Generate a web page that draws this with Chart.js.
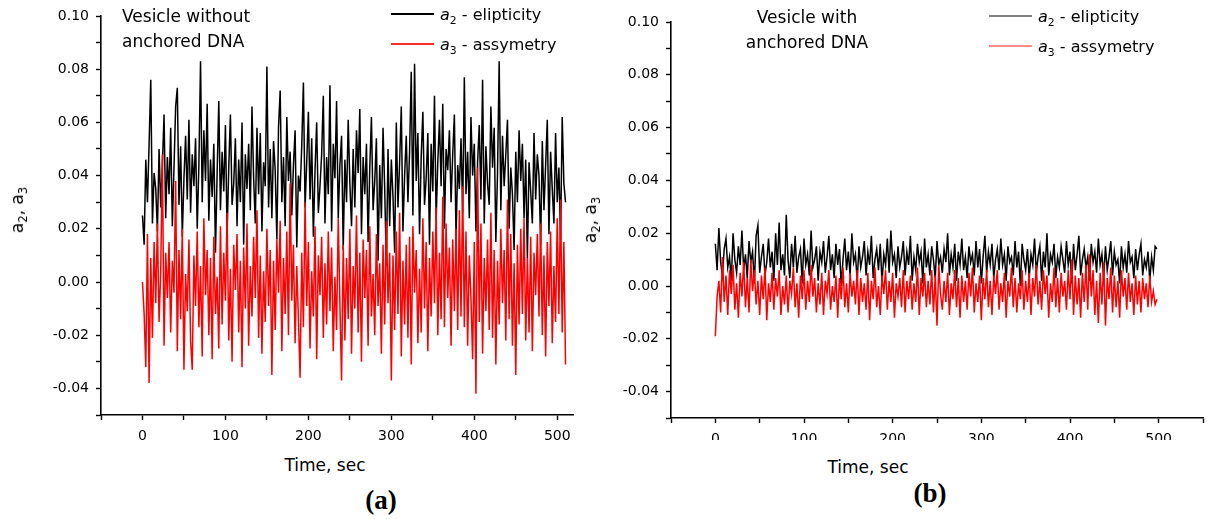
<!DOCTYPE html>
<html><head><meta charset="utf-8">
<script src="https://cdn.jsdelivr.net/npm/chart.js@4.4.1/dist/chart.umd.min.js"></script>
<style>
html,body{margin:0;padding:0;background:#fff;}
#wrap{position:relative;width:1211px;height:519px;overflow:hidden;background:#fff;font-family:"DejaVu Sans",sans-serif;color:#000;}
.abs{position:absolute;white-space:nowrap;}
canvas{position:absolute;}
sub{font-size:0.68em;vertical-align:-0.35em;line-height:0;}
.lgrow{position:absolute;height:24px;display:flex;align-items:center;font-size:16px;white-space:nowrap;}
.lgline{display:inline-block;width:43px;height:2px;margin-right:6px;}
.rot{position:absolute;width:0;height:0;}
.rot span{position:absolute;left:0;top:0;transform:translate(-50%,-50%) rotate(-90deg);white-space:nowrap;font-size:17px;}
.panel{font-family:"Liberation Serif","Times New Roman",serif;font-weight:bold;font-size:27px;}
</style></head><body>
<div id="wrap">
<canvas id="cA" width="600" height="440" style="left:0;top:0"></canvas>
<canvas id="cB" width="611" height="440" style="left:600px;top:0"></canvas>

<div class="abs" style="left:122px;top:4px;font-size:17px;line-height:25px;">Vesicle without<br>anchored DNA</div>
<div class="abs" style="left:707px;top:5px;width:200px;text-align:center;font-size:17px;line-height:25px;">Vesicle with<br>anchored DNA</div>

<div class="rot" style="left:17px;top:210px;"><span>a<sub>2</sub>, a<sub>3</sub></span></div>
<div class="rot" style="left:590px;top:220px;"><span>a<sub>2</sub>, a<sub>3</sub></span></div>

<div class="abs" style="left:325px;top:465px;transform:translate(-50%,-50%);font-size:17px;">Time, sec</div>
<div class="abs" style="left:868px;top:467px;transform:translate(-50%,-50%);font-size:17px;">Time, sec</div>

<div class="abs panel" style="left:381px;top:500px;transform:translate(-50%,-50%);">(a)</div>
<div class="abs panel" style="left:930px;top:493px;transform:translate(-50%,-50%);">(b)</div>
<div id="legends"></div>
</div>
<script>
// ---- Data ----
const timeA = [0,2,4,6,8,10,12,14,16,18,20,22,24,26,28,30,32,34,36,38,40,42,44,46,48,50,52,54,56,58,60,62,64,66,68,70,72,74,76,78,80,82,84,86,88,90,92,94,96,98,100,102,104,106,108,110,112,114,116,118,120,122,124,126,128,130,132,134,136,138,140,142,144,146,148,150,152,154,156,158,160,162,164,166,168,170,172,174,176,178,180,182,184,186,188,190,192,194,196,198,200,202,204,206,208,210,212,214,216,218,220,222,224,226,228,230,232,234,236,238,240,242,244,246,248,250,252,254,256,258,260,262,264,266,268,270,272,274,276,278,280,282,284,286,288,290,292,294,296,298,300,302,304,306,308,310,312,314,316,318,320,322,324,326,328,330,332,334,336,338,340,342,344,346,348,350,352,354,356,358,360,362,364,366,368,370,372,374,376,378,380,382,384,386,388,390,392,394,396,398,400,402,404,406,408,410,412,414,416,418,420,422,424,426,428,430,432,434,436,438,440,442,444,446,448,450,452,454,456,458,460,462,464,466,468,470,472,474,476,478,480,482,484,486,488,490,492,494,496,498,500,502,504,506,508,510];
const a2A = [
0.025,0.014,0.046,0.030,0.052,0.076,0.022,0.041,0.035,0.019,0.050,0.028,0.044,0.063,0.024,0.047,
0.033,0.058,0.021,0.043,0.066,0.073,0.029,0.051,0.017,0.039,0.055,0.031,0.061,0.026,0.048,0.036,
0.054,0.020,0.044,0.083,0.030,0.057,0.038,0.067,0.023,0.046,0.032,0.052,0.011,0.041,0.068,0.027,
0.049,0.034,0.059,0.018,0.043,0.063,0.029,0.037,0.054,0.021,0.046,0.030,0.060,0.014,0.048,0.035,
0.052,0.027,0.066,0.039,0.022,0.058,0.033,0.056,0.019,0.045,0.036,0.081,0.028,0.050,0.024,0.053,
0.042,0.016,0.058,0.072,0.030,0.047,0.021,0.062,0.038,0.049,0.025,0.044,0.057,0.013,0.040,0.034,
0.051,0.075,0.028,0.045,0.064,0.031,0.054,0.017,0.042,0.060,0.026,0.036,0.048,0.070,0.022,0.047,
0.033,0.074,0.019,0.052,0.039,0.068,0.024,0.044,0.055,0.012,0.046,0.030,0.061,0.037,0.021,0.050,
0.028,0.057,0.041,0.065,0.018,0.047,0.033,0.052,0.015,0.043,0.062,0.027,0.038,0.054,0.008,0.044,
0.024,0.058,0.035,0.006,0.050,0.021,0.046,0.032,0.011,0.060,0.028,0.045,0.066,0.019,0.040,0.055,
0.030,0.049,0.079,0.025,0.082,0.038,0.056,0.018,0.047,0.064,0.029,0.039,0.056,0.014,0.052,0.034,
0.070,0.023,0.045,0.061,0.036,0.067,0.020,0.050,0.042,0.057,0.030,0.048,0.063,0.016,0.044,0.035,
0.054,0.026,0.077,0.033,0.049,0.024,0.062,0.040,0.052,0.019,0.045,0.059,0.031,0.076,0.022,0.051,
0.037,0.029,0.066,0.043,0.058,0.015,0.041,0.083,0.027,0.055,0.036,0.048,0.061,0.020,0.043,0.033,
0.012,0.049,0.030,0.057,0.038,0.052,0.024,0.046,0.009,0.045,0.034,0.022,0.056,0.031,0.048,0.040,
0.014,0.053,0.027,0.044,0.061,0.018,0.049,0.035,0.022,0.056,0.030,0.043,0.016,0.062,0.037,0.030];
const a3A = [
0.000,-0.012,-0.032,0.018,-0.038,0.009,-0.021,0.015,-0.008,0.022,-0.015,0.004,0.048,-0.024,0.011,-0.006,
0.015,-0.019,0.008,-0.004,0.038,-0.026,0.012,-0.014,0.020,-0.033,0.003,-0.011,0.016,-0.022,-0.033,0.010,
-0.009,0.019,-0.017,0.006,-0.028,0.024,-0.005,0.012,-0.020,0.009,-0.029,0.017,-0.012,0.002,-0.025,0.021,
-0.016,0.011,-0.007,0.026,-0.022,0.005,-0.030,0.014,-0.003,0.018,-0.019,0.008,-0.032,0.013,-0.010,0.022,
-0.024,0.006,-0.013,0.017,-0.006,0.027,-0.021,0.010,-0.027,0.004,-0.015,0.020,-0.009,0.012,-0.035,0.008,
-0.018,0.016,-0.004,0.023,-0.026,0.009,-0.012,0.019,-0.020,0.037,-0.007,0.014,-0.023,0.006,-0.014,-0.036,
0.011,-0.017,0.030,-0.009,0.015,-0.025,0.004,-0.013,0.021,-0.029,0.010,-0.005,0.017,-0.021,0.007,-0.016,
0.019,-0.011,0.013,-0.026,0.002,-0.018,0.024,-0.008,-0.037,0.014,-0.022,0.009,-0.014,0.020,-0.027,0.006,
-0.010,0.025,-0.019,0.011,-0.030,0.016,-0.006,0.012,-0.024,0.021,-0.013,0.003,-0.020,0.018,-0.009,0.007,
-0.027,0.014,-0.016,0.023,-0.008,0.011,-0.037,0.010,-0.018,0.019,-0.012,0.026,-0.028,0.008,-0.016,0.014,
-0.021,0.017,-0.031,0.021,-0.004,0.012,-0.023,0.005,-0.019,0.024,-0.010,0.015,-0.026,0.009,-0.013,0.019,
-0.008,0.028,-0.020,0.011,-0.014,0.032,-0.017,0.022,-0.006,0.013,-0.024,0.016,-0.011,0.020,-0.018,0.027,
-0.013,0.036,-0.017,0.019,-0.024,0.010,-0.006,-0.029,0.015,-0.042,0.043,-0.015,0.022,-0.027,0.009,-0.011,
0.016,-0.018,0.026,-0.021,0.012,-0.031,0.008,-0.016,0.020,-0.008,0.012,-0.022,0.031,-0.014,0.018,-0.024,
0.007,-0.035,0.014,-0.016,0.020,-0.012,0.024,-0.022,0.009,-0.019,0.017,-0.026,0.011,-0.005,0.018,-0.013,
0.022,-0.020,0.010,-0.028,0.015,-0.009,0.019,-0.023,0.006,-0.015,0.024,-0.012,0.031,-0.019,0.015,-0.031];
const timeB = [0,2,4,6,8,10,12,14,16,18,20,22,24,26,28,30,32,34,36,38,40,42,44,46,48,50,52,54,56,58,60,62,64,66,68,70,72,74,76,78,80,82,84,86,88,90,92,94,96,98,100,102,104,106,108,110,112,114,116,118,120,122,124,126,128,130,132,134,136,138,140,142,144,146,148,150,152,154,156,158,160,162,164,166,168,170,172,174,176,178,180,182,184,186,188,190,192,194,196,198,200,202,204,206,208,210,212,214,216,218,220,222,224,226,228,230,232,234,236,238,240,242,244,246,248,250,252,254,256,258,260,262,264,266,268,270,272,274,276,278,280,282,284,286,288,290,292,294,296,298,300,302,304,306,308,310,312,314,316,318,320,322,324,326,328,330,332,334,336,338,340,342,344,346,348,350,352,354,356,358,360,362,364,366,368,370,372,374,376,378,380,382,384,386,388,390,392,394,396,398,400,402,404,406,408,410,412,414,416,418,420,422,424,426,428,430,432,434,436,438,440,442,444,446,448,450,452,454,456,458,460,462,464,466,468,470,472,474,476,478,480,482,484,486,488,490,492,494,496,498];
const a2B = [
0.016,0.006,0.022,0.009,0.004,0.014,0.018,0.007,0.011,0.002,0.020,0.010,0.005,0.015,0.008,0.021,
0.006,0.012,0.003,0.017,0.009,0.013,0.001,0.019,0.023,0.005,0.011,0.016,0.004,0.009,0.018,0.007,
0.013,0.002,0.020,0.008,0.024,0.006,0.012,0.004,0.027,0.010,0.003,0.016,0.007,0.019,0.005,0.011,
0.014,0.001,0.018,0.008,0.012,0.004,0.021,0.007,0.010,0.015,0.002,0.013,0.009,0.017,0.005,0.011,
0.019,0.006,0.012,0.003,0.016,0.008,0.014,0.000,0.010,0.018,0.006,0.013,0.004,0.020,0.009,0.012,
0.002,0.015,0.007,0.011,0.017,0.004,0.013,0.008,0.019,0.003,0.010,0.014,0.006,0.016,0.001,0.012,
0.008,0.018,0.005,0.021,0.009,0.012,0.003,0.015,0.007,0.011,0.017,0.004,0.013,0.008,0.019,0.002,
0.011,0.006,0.016,0.009,0.013,0.001,0.018,0.007,0.012,0.004,0.015,0.010,0.003,0.017,0.008,0.011,
0.005,0.014,0.009,0.020,0.004,0.012,0.007,0.016,0.002,0.013,0.008,0.018,0.006,0.011,0.003,0.015,
0.009,0.012,0.004,0.017,0.007,0.014,0.001,0.011,0.019,0.005,0.013,0.008,0.016,0.003,0.010,0.014,
0.006,0.018,0.008,0.012,0.002,0.015,0.009,0.011,0.004,0.017,0.007,0.013,0.000,0.016,0.010,0.006,
0.014,0.003,0.012,0.008,0.018,0.005,0.011,0.015,0.002,0.013,0.007,0.020,0.004,0.012,0.009,0.016,
0.003,0.011,0.007,0.015,0.010,0.005,0.017,0.008,0.013,0.001,0.016,0.006,0.012,0.019,0.004,0.010,
0.014,0.007,0.011,0.002,0.016,0.009,0.013,0.005,0.018,0.008,0.012,0.003,0.015,0.006,0.011,0.017,
0.004,0.013,0.008,0.010,0.001,0.015,0.007,0.012,0.005,0.017,0.009,0.011,0.003,0.014,0.006,0.012,
0.016,0.004,0.010,0.007,0.013,0.002,0.011,0.006,0.015,0.014];
const a3B = [
-0.019,-0.004,0.002,-0.010,0.011,-0.006,0.004,-0.011,0.006,-0.003,0.008,-0.009,0.001,-0.012,0.005,-0.004,
0.009,-0.008,0.003,-0.010,0.010,-0.002,0.006,-0.007,0.002,-0.011,0.004,-0.005,0.007,-0.013,0.001,-0.006,
0.005,-0.009,0.003,-0.004,0.006,-0.011,0.000,-0.007,0.004,-0.010,0.002,-0.003,0.007,-0.008,0.001,-0.012,
0.004,-0.005,0.006,-0.009,0.002,-0.006,0.008,-0.004,0.003,-0.010,0.001,-0.007,0.005,-0.011,0.002,-0.003,
0.006,-0.009,0.000,-0.006,0.004,-0.012,0.003,-0.005,0.007,-0.008,0.001,-0.010,0.005,-0.004,0.002,-0.007,
0.006,-0.011,0.003,-0.006,0.001,-0.009,0.005,-0.013,0.002,-0.005,0.007,-0.008,0.000,-0.011,0.004,-0.003,
0.006,-0.009,0.002,-0.006,0.005,-0.012,0.001,-0.004,0.003,-0.008,0.006,-0.010,0.002,-0.005,0.004,-0.009,
0.001,-0.006,0.007,-0.011,0.003,-0.004,0.005,-0.008,0.002,-0.007,0.006,-0.010,0.004,-0.015,0.008,-0.003,
-0.009,0.002,-0.006,0.005,-0.011,0.001,-0.005,0.006,-0.008,0.003,-0.012,0.004,-0.006,0.002,-0.009,0.005,
-0.004,0.007,-0.010,0.001,-0.006,0.004,-0.013,0.003,-0.005,0.006,-0.008,0.002,-0.011,0.004,-0.003,0.006,
-0.009,0.001,-0.006,0.005,-0.012,0.002,-0.004,0.007,-0.008,0.003,-0.010,0.001,-0.005,0.006,-0.009,0.002,
-0.006,0.005,-0.011,0.003,-0.004,0.008,-0.007,0.002,-0.009,0.006,-0.003,0.004,-0.012,0.001,-0.006,0.007,
-0.008,0.003,-0.010,0.005,-0.004,0.002,-0.009,0.006,-0.005,0.010,-0.011,0.004,-0.007,0.003,-0.012,0.005,
-0.006,0.008,-0.009,0.012,-0.004,0.006,-0.011,0.002,-0.014,0.005,-0.007,0.009,-0.015,0.003,-0.005,0.007,
-0.010,0.004,-0.008,0.002,-0.012,0.006,-0.004,0.003,-0.009,0.005,-0.006,0.001,-0.011,0.004,-0.007,0.002,
-0.010,0.003,-0.005,0.001,-0.008,0.004,-0.006,-0.002,-0.007,-0.005];
const seriesLabels = ['elipticity', 'assymetry'];
const seriesSubs = ['2', '3'];
const yMin = -0.05, yMax = 0.10;

// ---- Chart builder ----
function pts(t, v) { const n = Math.min(t.length, v.length); const out = []; for (let i = 0; i < n; i++) out.push({x: t[i], y: v[i]}); return out; }

function makeChart(id, times, a2, a3, xMax, yW, xH, pad) {
  const tickFont = {family: 'DejaVu Sans', size: 14};
  return new Chart(document.getElementById(id), {
    type: 'line',
    data: {datasets: [
      {label: 'a2', data: pts(times, a2), borderColor: '#000', borderWidth: 1.5, pointRadius: 0, tension: 0, order: 1},
      {label: 'a3', data: pts(times, a3), borderColor: '#ff0000', borderWidth: 1.5, pointRadius: 0, tension: 0, order: 0}
    ]},
    options: {
      responsive: false, animation: false, parsing: false, normalized: true,
      layout: {padding: pad},
      plugins: {legend: {display: false}, tooltip: {enabled: false}},
      scales: {
        x: {
          type: 'linear', min: -50, max: xMax,
          border: {display: true, color: '#000', width: 1.6},
          grid: {drawOnChartArea: false, drawTicks: true, tickLength: 5, tickColor: '#000', tickWidth: 1.4},
          ticks: {stepSize: 50, includeBounds: false, autoSkip: false, maxRotation: 0, padding: 8, color: '#000', font: tickFont,
                  callback: v => (Math.round(v) % 100 === 0 ? String(Math.round(v)) : '')},
          afterBuildTicks: s => { s.ticks = s.ticks.filter(t => Math.abs(t.value / 50 - Math.round(t.value / 50)) < 1e-6); },
          afterFit: s => { s.height = xH; }
        },
        y: {
          type: 'linear', min: yMin, max: yMax,
          border: {display: true, color: '#000', width: 1.6},
          grid: {drawOnChartArea: false, drawTicks: true, tickLength: 5, tickColor: '#000', tickWidth: 1.4},
          ticks: {stepSize: 0.01, autoSkip: false, padding: 7, color: '#000', font: tickFont,
                  callback: v => { const k = Math.round(v * 100); return k % 2 === 0 ? (k / 100).toFixed(2) : ''; }},
          afterFit: s => { s.width = yW; }
        }
      }
    }
  });
}

const chA = makeChart('cA', timeA, a2A, a3A, 519, 101, 25, {left: 0, right: 27, top: 16, bottom: 0});
const chB = makeChart('cB', timeB, a2B, a3B, 550, 71, 22, {left: 0, right: 5, top: 22, bottom: 0});

// ---- HTML legends ----
function legend(x, ys, colors) {
  let html = '';
  for (let i = 0; i < seriesLabels.length; i++) {
    html += '<div class="lgrow" style="left:' + x + 'px;top:' + (ys[i] - 12) + 'px;">' +
      '<span class="lgline" style="background:' + colors[i] + '"></span>' +
      '<span><i>a</i><sub>' + seriesSubs[i] + '</sub> - ' + seriesLabels[i] + '</span></div>';
  }
  return html;
}
document.getElementById('legends').innerHTML =
  legend(391, [14, 44], ['#000000', '#ff2a2a']) +
  legend(989, [16, 46], ['#808080', '#ff8a8a']);
</script>
</body></html>
